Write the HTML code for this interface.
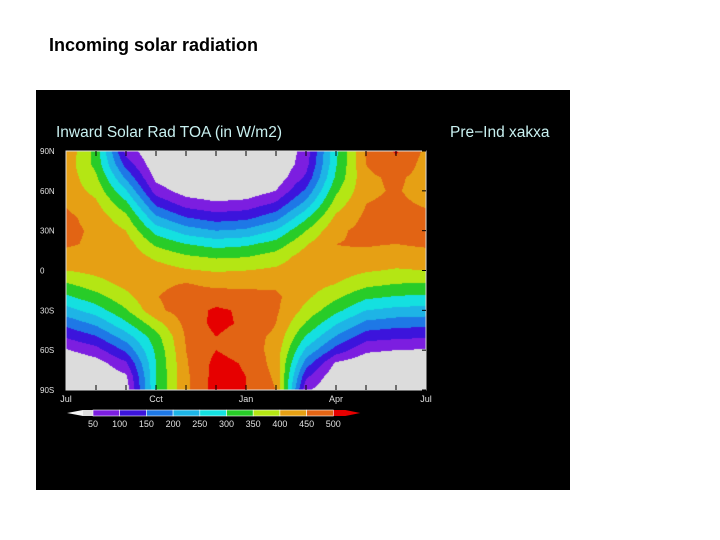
<!DOCTYPE html>
<html><head><meta charset="utf-8">
<style>
body{margin:0;width:720px;height:540px;background:#fff;position:relative;overflow:hidden;font-family:"Liberation Sans",sans-serif}
#pt{position:absolute;left:49px;top:35px;font-size:18px;font-weight:bold;color:#000}
#panel{position:absolute;left:36px;top:90px;width:534px;height:400px;background:#000}
</style></head>
<body>
<div id="pt">Incoming solar radiation</div>
<div id="panel">
<svg id="svg" width="534" height="400" style="position:absolute;left:0;top:0">
<text x="20" y="47" fill="#c8f0f0" font-size="15.5" font-family="Liberation Sans">Inward Solar Rad TOA  (in W/m2)</text>
<text x="414" y="47" fill="#c8f0f0" font-size="15.5" font-family="Liberation Sans">Pre−Ind xakxa</text>
</svg>
<canvas id="cv" width="360" height="239" style="position:absolute;left:30px;top:61px"></canvas>
<svg id="ov" width="534" height="400" style="position:absolute;left:0;top:0"></svg>
</div>
<script>
const months=["Jul","Aug","Sep","Oct","Nov","Dec","Jan","Feb","Mar","Apr","May","Jun"];
const xTickLabels=["Jul","Cct","Jan","Apr","Jul"];
const yTickLabels=["90N","60N","30N","0","30S","60S","90S"];
const levels=[50,100,150,200,250,300,350,400,450,500];
const levelColors=["#dcdcdc","#7c1ee0","#3c14dc","#1e78e6","#1eb4e6","#14e0e0","#28cc28","#b4e614","#e6a014","#e26414","#e60000"];
// rows: months (Jul..Jun), cols: latitude 90N..90S step 10
const vJul=[440,430,430,430,445,462,465,458,430,400,345,290,230,165,105,45,0,0,0];
const vAug=[330,335,360,385,410,430,440,440,430,415,380,330,275,210,145,80,25,0,0];
const vSep=[80,130,190,255,315,365,400,425,435,430,415,385,345,290,225,160,90,40,20];
const vOct=[0,10,35,75,140,210,280,340,390,425,442,448,440,380,330,310,300,300,300];
const vNov=[0,0,0,25,80,150,225,300,360,405,452,468,472,465,455,450,445,440,440];
const vDec=[0,0,0,10,60,125,200,280,345,395,440,470,510,515,500,500,515,520,520];
const vJan=[0,0,0,15,70,135,210,290,350,400,440,465,490,490,470,480,495,500,500];
const vFeb=[0,0,15,50,110,180,255,320,375,410,440,460,458,450,440,430,430,440,450];
const vMar=[70,80,110,160,220,290,350,395,425,430,425,410,385,345,295,240,175,110,60];
const vApr=[290,295,310,340,375,410,440,450,445,425,400,360,315,255,195,130,40,10,0];
const vMay=[455,450,440,440,450,460,465,455,435,405,365,310,250,185,120,60,10,0,0];
const vJun=[505,490,460,455,460,465,465,450,425,395,350,295,235,170,110,50,0,0,0];
const grid=[vJul,vAug,vSep,vOct,vNov,vDec,vJan,vFeb,vMar,vApr,vMay,vJun];

const X0=30,X1=390,Y0=61,Y1=300;
function xPos(m){return X0+(X1-X0)*m/12;}
function yPos(lat){return Y0+(Y1-Y0)*(90-lat)/180;}
function colorFor(v){let i=0;while(i<levels.length&&v>=levels[i])i++;return levelColors[i];}
function hex(c){return [parseInt(c.substr(1,2),16),parseInt(c.substr(3,2),16),parseInt(c.substr(5,2),16)];}

const cv=document.getElementById('cv');const ctx=cv.getContext('2d');
const W=cv.width,H=cv.height;const img=ctx.createImageData(W,H);
for(let py=0;py<H;py++){
  const lf=(py+0.5)/H*18;const l0=Math.min(17,Math.floor(lf));const lt=lf-l0;
  for(let px=0;px<W;px++){
    const mf=(px+0.5)/W*12;const m0=Math.floor(mf)%12;const m1=(m0+1)%12;const mt=mf-Math.floor(mf);
    const a=grid[m0][l0]*(1-lt)+grid[m0][l0+1]*lt;
    const b=grid[m1][l0]*(1-lt)+grid[m1][l0+1]*lt;
    const v=a*(1-mt)+b*mt;
    const c=hex(colorFor(v));const k=(py*W+px)*4;
    img.data[k]=c[0];img.data[k+1]=c[1];img.data[k+2]=c[2];img.data[k+3]=255;
  }
}
ctx.putImageData(img,0,0);

const ov=document.getElementById('ov');const NS='http://www.w3.org/2000/svg';
function mk(t,attrs,txt){const e=document.createElementNS(NS,t);for(const k in attrs)e.setAttribute(k,attrs[k]);if(txt!==undefined)e.textContent=txt;ov.appendChild(e);return e;}
let fr=mk('rect',{x:X0,y:Y0,width:X1-X0,height:Y1-Y0,fill:'none',stroke:'#e0e0e0','stroke-width':1});


for(let m=1;m<12;m++){
  let t=mk('line',{x1:xPos(m),x2:xPos(m),y1:Y0,y2:Y0+5,stroke:'#000','stroke-width':1});
  
  
  let b=mk('line',{x1:xPos(m),x2:xPos(m),y1:Y1,y2:Y1-5,stroke:'#000','stroke-width':1});
  
  
}
xTickLabels.forEach((s,i)=>{
  let t=mk('text',{x:xPos(i*3),y:Y1+12,fill:'#e0e0e0','font-size':9,'text-anchor':'middle','font-family':'Liberation Sans'},s);
  
  
});
yTickLabels.forEach((s,i)=>{
  const lat=90-i*30;
  let t=mk('text',{x:4,y:yPos(lat)+3,fill:'#e0e0e0','font-size':8,'font-family':'Liberation Sans'},s);
  
  
  let r=mk('line',{x1:X1,x2:X1-4,y1:yPos(lat),y2:yPos(lat),stroke:'#000'});
  
  
});
// colorbar
const CB0=57,SEG=26.7,CBY=320,CBH=6;
const CBEND=CB0+SEG*(levels.length-1);
let tipL=mk('polygon',{points:`${CB0-26},${CBY+CBH/2} ${CB0-10},${CBY} ${CB0-10},${CBY+CBH}`,fill:'#f4f4f4'});


let g=mk('rect',{x:CB0-10,y:CBY,width:10,height:CBH,fill:levelColors[0]});


let tipR=mk('polygon',{points:`${CBEND},${CBY} ${CBEND+12},${CBY} ${CBEND+27},${CBY+CBH/2} ${CBEND+12},${CBY+CBH} ${CBEND},${CBY+CBH}`,fill:levelColors[levelColors.length-1]});


for(let i=0;i<levels.length;i++){
  if(i<levels.length-1){
    let r=mk('rect',{x:CB0+SEG*i,y:CBY,width:SEG,height:CBH,fill:levelColors[i+1],stroke:'#fff','stroke-width':0.6});
    
    
  }
  let t=mk('text',{x:CB0+SEG*i,y:CBY+17,fill:'#e0e0e0','font-size':9,'text-anchor':'middle','font-family':'Liberation Sans'},String(levels[i]));
  
  
}
</script>
</body></html>
